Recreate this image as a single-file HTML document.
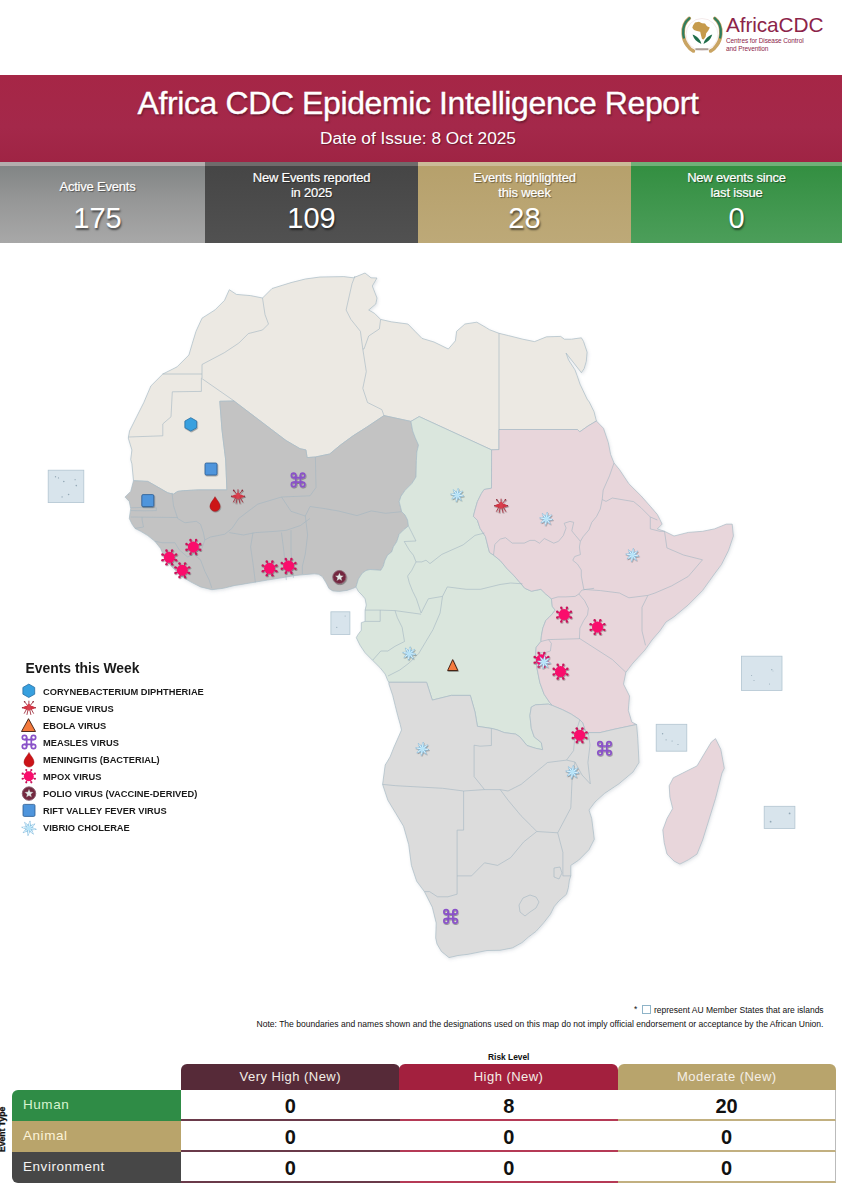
<!DOCTYPE html>
<html><head><meta charset="utf-8">
<style>
*{margin:0;padding:0;box-sizing:border-box}
html,body{width:842px;height:1195px;overflow:hidden;background:#fff;font-family:"Liberation Sans",sans-serif}
.abs{position:absolute}
#hdr{left:0;top:75px;width:842px;height:87px;background:linear-gradient(180deg,#a62646 0%,#a4284a 60%,#9f2444 100%)}
#title{left:0;top:84.5px;width:836px;text-align:center;color:#fff;font-size:32px;letter-spacing:-0.39px;line-height:36px;text-shadow:1px 1.5px 2px rgba(0,0,0,.35);-webkit-text-stroke:0.35px #fff}
#sub{left:0;top:128px;width:836px;text-align:center;color:#fff;font-size:17.3px;line-height:20px;text-shadow:1px 1px 1px rgba(0,0,0,.35)}
.stat{top:162px;height:81px;color:#fff;text-align:center}
.stat .lbl{position:absolute;left:0;right:0;font-size:13px;letter-spacing:-0.2px;line-height:15px;text-shadow:1px 1px 1px rgba(0,0,0,.45);-webkit-text-stroke:0.2px #fff}
.stat .num{position:absolute;left:0;right:0;top:40px;font-size:29px;line-height:32px;text-shadow:1px 2px 2px rgba(0,0,0,.55)}
.stat .bev{position:absolute;left:0;right:0;top:0;height:4px}
.lg{position:absolute;left:43px;font-size:9.3px;font-weight:bold;color:#1a1a1a;line-height:11px;letter-spacing:0}
.cellh{position:absolute;top:1063.5px;height:26.5px;color:#f4eee6;font-size:13px;text-align:center;line-height:25.5px;border-radius:6px 6px 0 0;letter-spacing:0.45px}
.rowl{position:absolute;left:12px;width:169px;height:31px;color:#f2f2e8;font-size:13.5px;line-height:30px;padding-left:11px;letter-spacing:0.55px}
.cell{position:absolute;height:31px;background:#fff;text-align:center;font-size:20px;font-weight:bold;color:#111;line-height:32px}
</style></head><body>

<!-- logo -->
<svg class="abs" style="left:678px;top:10px" width="50" height="50" viewBox="0 0 50 50">
  <circle cx="24" cy="24.5" r="16" fill="none" stroke="#ecdcdc" stroke-width="0.6"/>
  <path d="M11.3,8.3 C6.5,12 4.8,18 5.2,23.8 C5.5,28.5 7,32.5 9.5,35.6 C11,38 13,40 15.4,41" fill="none" stroke="#c9a463" stroke-width="3.6" stroke-linecap="round"/>
  <path d="M36.8,8.3 C41.5,12 43.2,18 42.8,23.8 C42.5,28.5 41,32.5 38.5,35.6 C37,38 35,40 32.6,41" fill="none" stroke="#c9a463" stroke-width="3.6" stroke-linecap="round"/>
  <path d="M11.3,8.3 C6.5,12 4.8,18 5.2,23.8 C5.3,25 5.5,26.5 5.9,27.5" fill="none" stroke="#2f7d5e" stroke-width="2.3" stroke-linecap="round"/>
  <path d="M36.8,8.3 C41.5,12 43.2,18 42.8,23.8 C42.7,25 42.5,26.5 42.1,27.5" fill="none" stroke="#2f7d5e" stroke-width="2.3" stroke-linecap="round"/>
  <path d="M15,15.5 L17,12.6 L21,11.8 L24,13.2 L27,13.6 L29,16.2 L31.8,17.6 L30.2,20.8 L28.2,23.3 L27.6,26.8 L25.6,29.6 L24,29 L23,25.2 L22.2,21.8 L19,21 L16,20 L14.3,17.8Z" fill="#c69b4c"/>
  <path d="M14.6,24.6 C15.6,29 19,32.2 23.3,33.9 C22.6,30.2 19.5,26.6 14.6,24.6Z" fill="#1f6e4a"/>
  <path d="M34.2,24.6 C33.2,29 29.8,32.2 25.5,33.9 C26.2,30.2 29.3,26.6 34.2,24.6Z" fill="#1f6e4a"/>
  <rect x="17.4" y="38.2" width="13" height="2" fill="#8a7a70" opacity="0.7"/>
</svg>
<div class="abs" style="left:726px;top:11.5px;font-size:20.8px;color:#8c2449;line-height:26px;letter-spacing:-0.1px">AfricaCDC</div>
<div class="abs" style="left:726px;top:37px;font-size:6.5px;color:#8c2449;line-height:8px;letter-spacing:-0.1px">Centres for Disease Control<br>and Prevention</div>

<div id="hdr" class="abs"></div>
<div id="title" class="abs">Africa CDC Epidemic Intelligence Report</div>
<div id="sub" class="abs">Date of Issue: 8 Oct 2025</div>

<div class="abs stat" style="left:0;width:205px;background:linear-gradient(180deg,#7f8383 0%,#959696 45%,#a8a8a8 100%)">
  <div class="bev" style="background:#b3adad"></div>
  <div class="lbl" style="top:16.5px;right:10px">Active Events</div>
  <div class="num" style="right:10px">175</div>
</div>
<div class="abs stat" style="left:205px;width:213px;background:linear-gradient(180deg,#454545,#515151)">
  <div class="bev" style="background:#6f6b6b"></div>
  <div class="lbl" style="top:8px">New Events reported<br>in 2025</div>
  <div class="num">109</div>
</div>
<div class="abs stat" style="left:418px;width:213px;background:linear-gradient(180deg,#b6a06b,#bda978)">
  <div class="bev" style="background:#cbbb98"></div>
  <div class="lbl" style="top:8px">Events highlighted<br>this week</div>
  <div class="num">28</div>
</div>
<div class="abs stat" style="left:631px;width:211px;background:linear-gradient(180deg,#328e40,#4c9e5a)">
  <div class="bev" style="background:#70b078"></div>
  <div class="lbl" style="top:8px">New events since<br>last issue</div>
  <div class="num">0</div>
</div>

<!-- MAP -->
<svg id="map" class="abs" style="left:0;top:0" width="842" height="1000" viewBox="0 0 842 1000">
<defs>
<filter id="msh" x="-5%" y="-5%" width="110%" height="110%"><feDropShadow dx="1" dy="1.5" stdDeviation="1.4" flood-color="#607080" flood-opacity="0.18"/></filter>
<filter id="sh" x="-50%" y="-50%" width="200%" height="200%"><feDropShadow dx="0.6" dy="1" stdDeviation="0.7" flood-color="#000" flood-opacity="0.35"/></filter>
<symbol id="hx" viewBox="-9 -9 18 18" overflow="visible"><polygon points="0,-6.7 5.9,-3.35 5.9,3.35 0,6.7 -5.9,3.35 -5.9,-3.35" fill="#37a0df" stroke="#2a6fa2" stroke-width="0.8"/></symbol>
<symbol id="sq" viewBox="-9 -9 18 18" overflow="visible"><rect x="-6" y="-6" width="12" height="12" rx="1.3" fill="#4f95dc" stroke="#2b5a90" stroke-width="0.8"/></symbol>
<symbol id="tr2" viewBox="-9 -9 18 18" overflow="visible"><path d="M0,-5.6 L5.1,5.3 L-5.1,5.3Z" fill="#f47a3c" stroke="#3a1a10" stroke-width="0.9" stroke-linejoin="round"/></symbol>
<symbol id="tr" viewBox="-9 -9 18 18" overflow="visible"><path d="M0,-6.6 L7,6.2 L-7,6.2Z" fill="#f47a3c" stroke="#3a1a10" stroke-width="0.9" stroke-linejoin="round"/></symbol>
<symbol id="dr" viewBox="-9 -9 18 18" overflow="visible"><path d="M0,-7.3 C1.4,-4.2 5,-1.3 5,2.3 A5,4.9 0 0 1 -5,2.3 C-5,-1.3 -1.4,-4.2 0,-7.3Z" fill="#cc1418" stroke="#9c1014" stroke-width="0.5"/></symbol>
<symbol id="ms" viewBox="-9 -9 18 18" overflow="visible"><g fill="none" stroke="#8a52c8" stroke-width="1.7"><path d="M-2.3,-4.6 V4.6 M2.3,-4.6 V4.6 M-4.6,-2.3 H4.6 M-4.6,2.3 H4.6"/><circle cx="-4.5" cy="-4.5" r="2.2"/><circle cx="4.5" cy="-4.5" r="2.2"/><circle cx="-4.5" cy="4.5" r="2.2"/><circle cx="4.5" cy="4.5" r="2.2"/></g></symbol>
<symbol id="po" viewBox="-9 -9 18 18" overflow="visible"><circle r="6.6" fill="#74283f" stroke="#8a6070" stroke-width="0.9"/><polygon points="0.00,-4.70 1.23,-1.70 4.47,-1.45 2.00,0.65 2.76,3.80 0.00,2.10 -2.76,3.80 -2.00,0.65 -4.47,-1.45 -1.23,-1.70" fill="#e6eceb" stroke="#5a2030" stroke-width="0.3"/></symbol>
<symbol id="dg" viewBox="-9 -9 18 18" overflow="visible"><g stroke-linecap="round"><path d="M-1.2,-2 L-4.2,-5.8 M1.2,-2 L4.2,-5.8 M0,-2 L0,-6.6 M-2.2,1.2 L-4.6,5.6 M2.2,1.2 L4.6,5.6 M-0.9,2 L-1.9,6.8 M0.9,2 L1.9,6.8" stroke="#a0303e" stroke-width="0.9" fill="none"/><path d="M-6.6,0 C-3,-2.8 3,-2.8 6.6,0 C3,2.8 -3,2.8 -6.6,0Z" fill="#d23444"/><ellipse cx="0" cy="-0.5" rx="1.7" ry="3.4" fill="#d8404e"/><circle cx="-4.3" cy="-5.9" r="0.8" fill="#8a2838"/><circle cx="4.3" cy="-5.9" r="0.8" fill="#8a2838"/><circle cx="-6.3" cy="0" r="0.8" fill="#8a2838"/><circle cx="6.3" cy="0" r="0.8" fill="#8a2838"/></g></symbol>
<symbol id="mp" viewBox="-9 -9 18 18" overflow="visible"><g fill="#fa0c6c" stroke="#c8125a"><line x1="4.25" y1="1.76" x2="6.47" y2="2.68" stroke-width="1.1"/><circle cx="6.84" cy="2.83" r="1.2" stroke="none" fill="#c8125a"/><line x1="1.76" y1="4.25" x2="2.68" y2="6.47" stroke-width="1.1"/><circle cx="2.83" cy="6.84" r="1.2" stroke="none" fill="#c8125a"/><line x1="-1.76" y1="4.25" x2="-2.68" y2="6.47" stroke-width="1.1"/><circle cx="-2.83" cy="6.84" r="1.2" stroke="none" fill="#c8125a"/><line x1="-4.25" y1="1.76" x2="-6.47" y2="2.68" stroke-width="1.1"/><circle cx="-6.84" cy="2.83" r="1.2" stroke="none" fill="#c8125a"/><line x1="-4.25" y1="-1.76" x2="-6.47" y2="-2.68" stroke-width="1.1"/><circle cx="-6.84" cy="-2.83" r="1.2" stroke="none" fill="#c8125a"/><line x1="-1.76" y1="-4.25" x2="-2.68" y2="-6.47" stroke-width="1.1"/><circle cx="-2.83" cy="-6.84" r="1.2" stroke="none" fill="#c8125a"/><line x1="1.76" y1="-4.25" x2="2.68" y2="-6.47" stroke-width="1.1"/><circle cx="2.83" cy="-6.84" r="1.2" stroke="none" fill="#c8125a"/><line x1="4.25" y1="-1.76" x2="6.47" y2="-2.68" stroke-width="1.1"/><circle cx="6.84" cy="-2.83" r="1.2" stroke="none" fill="#c8125a"/><circle r="5.5" stroke="none"/></g></symbol>
<symbol id="vb" viewBox="-9 -9 18 18" overflow="visible"><g><path d="M0.98,1.65 L6.73,0.95 L1.40,-1.32Z" fill="#9cd3ef" stroke="#7db4d8" stroke-width="0.5" stroke-linejoin="round"/><path d="M-0.48,1.86 L4.09,5.43 L1.92,0.06Z" fill="#9cd3ef" stroke="#7db4d8" stroke-width="0.5" stroke-linejoin="round"/><path d="M-1.65,0.98 L-0.95,6.73 L1.32,1.40Z" fill="#9cd3ef" stroke="#7db4d8" stroke-width="0.5" stroke-linejoin="round"/><path d="M-1.86,-0.48 L-5.43,4.09 L-0.06,1.92Z" fill="#9cd3ef" stroke="#7db4d8" stroke-width="0.5" stroke-linejoin="round"/><path d="M-0.98,-1.65 L-6.73,-0.95 L-1.40,1.32Z" fill="#9cd3ef" stroke="#7db4d8" stroke-width="0.5" stroke-linejoin="round"/><path d="M0.48,-1.86 L-4.09,-5.43 L-1.92,-0.06Z" fill="#9cd3ef" stroke="#7db4d8" stroke-width="0.5" stroke-linejoin="round"/><path d="M1.65,-0.98 L0.95,-6.73 L-1.32,-1.40Z" fill="#9cd3ef" stroke="#7db4d8" stroke-width="0.5" stroke-linejoin="round"/><path d="M1.86,0.48 L5.43,-4.09 L0.06,-1.92Z" fill="#9cd3ef" stroke="#7db4d8" stroke-width="0.5" stroke-linejoin="round"/><line x1="0.99" y1="0.14" x2="5.15" y2="0.72" stroke="#eefaff" stroke-width="0.8" stroke-linecap="round"/><line x1="0.60" y1="0.80" x2="3.13" y2="4.15" stroke="#eefaff" stroke-width="0.8" stroke-linecap="round"/><line x1="-0.14" y1="0.99" x2="-0.72" y2="5.15" stroke="#eefaff" stroke-width="0.8" stroke-linecap="round"/><line x1="-0.80" y1="0.60" x2="-4.15" y2="3.13" stroke="#eefaff" stroke-width="0.8" stroke-linecap="round"/><line x1="-0.99" y1="-0.14" x2="-5.15" y2="-0.72" stroke="#eefaff" stroke-width="0.8" stroke-linecap="round"/><line x1="-0.60" y1="-0.80" x2="-3.13" y2="-4.15" stroke="#eefaff" stroke-width="0.8" stroke-linecap="round"/><line x1="0.14" y1="-0.99" x2="0.72" y2="-5.15" stroke="#eefaff" stroke-width="0.8" stroke-linecap="round"/><line x1="0.80" y1="-0.60" x2="4.15" y2="-3.13" stroke="#eefaff" stroke-width="0.8" stroke-linecap="round"/><circle r="2" fill="#b8e4f8"/></g></symbol>
</defs>
<g stroke="#a9bcc6" stroke-width="0.7" stroke-linejoin="round" filter="url(#msh)">
<path d="M229.3,289.7 L236.4,294.4 L250.6,295.6 L262.5,298.0 L272.0,288.5 L291.0,282.6 L305.3,279.0 L320.0,277.0 L343.8,276.6 L353.3,277.8 L365.0,273.0 L371.0,277.8 L377.0,278.0 L372.3,286.0 L377.0,298.0 L375.8,304.0 L368.7,310.0 L374.6,313.4 L380.6,319.4 L391.3,321.8 L407.9,324.0 L415.0,331.3 L422.0,338.4 L434.0,342.0 L448.3,349.0 L455.4,340.8 L456.6,331.3 L464.9,324.0 L476.8,322.2 L486.3,327.7 L489.5,329.7 L499.0,333.3 L508.5,335.6 L522.8,339.2 L534.6,341.6 L546.5,336.8 L560.7,336.4 L564.3,339.2 L571.4,339.2 L581.4,337.8 L583.5,341.4 L587.1,352.1 L586.3,361.3 L584.2,368.5 L581.4,372.7 L566.0,353.0 L568.5,359.9 L575.0,369.9 L577.1,375.6 L580.0,384.1 L587.1,399.1 L589.3,402.0 L594.0,411.6 L596.4,421.0 L588.0,426.0 L579.8,431.8 L577.4,429.5 L499.0,429.5 L499.0,449.6 L491.6,449.9 L419.2,416.6 L410.9,421.4 L384.0,415.6 L366.5,427.3 L353.4,435.6 L340.4,445.1 L329.7,454.0 L315.4,457.0 L307.1,457.6 L305.9,449.9 L300.0,448.7 L286.0,440.5 L234.0,401.0 L219.8,401.3 L222.0,430.0 L225.7,460.0 L226.9,489.9 L198.4,489.9 L183.4,490.7 L177.7,491.4 L173.4,494.2 L167.7,492.8 L157.8,487.1 L147.8,481.4 L133.5,480.7 L131.9,463.8 L130.7,459.5 L131.9,450.0 L128.3,438.1 L129.5,431.0 L136.6,416.8 L143.8,402.5 L150.9,385.9 L162.8,374.0 L177.0,366.9 L188.9,355.0 L192.4,343.1 L196.0,331.3 L202.0,318.2 L215.0,309.9 L224.5,300.4Z" fill="#ece9e3"/>
<path d="M133.5,480.7 L147.8,481.4 L157.8,487.1 L167.7,492.8 L173.4,494.2 L177.7,491.4 L183.4,490.7 L198.4,489.9 L226.9,489.9 L225.7,460.0 L222.0,430.0 L219.8,401.3 L234.0,401.0 L286.0,440.5 L300.0,448.7 L305.9,449.9 L307.1,457.6 L315.4,457.0 L329.7,454.0 L340.4,445.1 L353.4,435.6 L366.5,427.3 L384.0,415.6 L410.9,421.4 L412.7,430.9 L415.2,437.6 L418.5,445.1 L416.9,451.8 L416.4,460.2 L416.0,477.0 L411.8,483.6 L405.1,490.3 L401.0,496.2 L399.2,501.7 L401.7,511.7 L405.1,515.1 L407.6,520.1 L408.4,525.9 L403.4,530.1 L399.2,534.3 L396.7,541.8 L393.4,546.8 L391.7,551.9 L387.5,555.2 L385.0,560.2 L383.3,566.1 L380.8,570.3 L370.0,569.5 L366.0,570.5 L362.2,573.3 L358.4,579.0 L356.0,587.0 L352.7,588.5 L347.0,590.4 L339.4,591.4 L332.8,590.9 L329.0,588.5 L326.1,582.8 L322.3,576.6 L318.5,574.3 L314.3,573.8 L300.0,575.0 L295.8,575.4 L281.5,577.8 L267.3,580.1 L253.0,582.5 L238.8,584.9 L235.0,585.4 L223.3,588.3 L211.9,589.7 L200.5,586.9 L192.0,582.6 L182.0,576.9 L174.9,569.8 L169.2,564.1 L163.5,555.5 L160.6,548.4 L154.9,541.3 L147.8,535.6 L140.7,531.3 L135.0,528.4 L132.1,524.2 L129.3,518.5 L130.7,508.5 L129.3,501.4 L125.0,497.1 L130.7,491.4Z" fill="#c3c3c3"/>
<path d="M491.6,449.9 L491.5,488.2 L484.1,489.5 L481.4,493.5 L477.4,501.6 L474.7,511.0 L473.4,516.3 L477.4,520.3 L480.1,528.4 L485.4,536.4 L488.1,547.1 L489.5,552.4 L493.5,555.1 L500.2,560.5 L506.9,568.5 L513.5,575.2 L520.0,582.6 L524.8,588.3 L531.4,591.2 L540.9,589.3 L545.7,594.0 L551.4,598.8 L552.3,606.4 L555.2,610.2 L551.4,614.9 L545.7,620.6 L542.8,628.2 L541.4,635.8 L540.9,641.5 L536.2,647.2 L535.6,654.3 L537.0,668.5 L539.9,682.8 L544.1,694.2 L549.8,702.7 L552.7,705.6 L548.4,704.1 L535.6,704.8 L531.3,707.0 L529.9,715.5 L531.3,728.4 L534.2,736.9 L541.3,742.6 L542.7,749.7 L535.6,748.3 L527.0,745.5 L519.9,736.9 L515.6,734.1 L504.2,732.6 L497.1,729.8 L491.4,728.4 L477.4,726.3 L475.0,712.0 L470.3,695.4 L451.3,695.4 L432.3,700.1 L426.6,682.3 L388.9,682.3 L387.7,680.4 L385.2,674.1 L380.2,667.8 L372.6,660.3 L365.1,652.8 L360.0,645.2 L356.3,637.7 L357.6,635.2 L361.3,630.2 L361.3,622.7 L365.1,621.4 L365.1,610.1 L366.3,605.1 L365.1,598.8 L362.2,595.2 L358.4,591.4 L356.0,587.0 L358.4,579.0 L362.2,573.3 L366.0,570.5 L370.0,569.5 L380.8,570.3 L383.3,566.1 L385.0,560.2 L387.5,555.2 L391.7,551.9 L393.4,546.8 L396.7,541.8 L399.2,534.3 L403.4,530.1 L408.4,525.9 L407.6,520.1 L405.1,515.1 L401.7,511.7 L399.2,501.7 L401.0,496.2 L405.1,490.3 L411.8,483.6 L416.0,477.0 L416.4,460.2 L416.9,451.8 L418.5,445.1 L415.2,437.6 L412.7,430.9 L410.9,421.4 L419.2,416.6Z" fill="#dae6dd"/>
<path d="M499.0,429.5 L577.4,429.5 L579.8,431.8 L588.0,426.0 L596.4,421.0 L603.5,428.3 L608.3,442.5 L610.6,454.4 L614.0,463.0 L619.4,469.5 L628.9,483.8 L640.8,495.6 L650.3,506.3 L657.4,514.6 L659.8,519.4 L662.1,524.1 L657.4,528.9 L664.5,531.3 L674.0,536.0 L688.3,532.4 L702.5,531.3 L714.4,528.9 L726.3,524.1 L732.2,524.1 L733.4,536.0 L728.6,550.3 L721.5,564.5 L714.4,574.0 L702.5,590.6 L688.3,604.9 L674.0,616.8 L666.0,622.0 L659.8,631.0 L652.0,640.0 L645.0,650.0 L638.4,657.2 L633.0,663.0 L625.9,672.3 L623.5,684.1 L629.5,696.0 L628.3,710.3 L631.8,722.1 L636.6,724.5 L614.0,729.3 L600.0,732.6 L588.3,732.6 L585.5,731.2 L582.6,722.7 L579.8,719.8 L571.2,714.1 L562.7,709.8 L552.7,705.6 L549.8,702.7 L544.1,694.2 L539.9,682.8 L537.0,668.5 L535.6,654.3 L536.2,647.2 L540.9,641.5 L541.4,635.8 L542.8,628.2 L545.7,620.6 L551.4,614.9 L555.2,610.2 L552.3,606.4 L551.4,598.8 L545.7,594.0 L540.9,589.3 L531.4,591.2 L524.8,588.3 L520.0,582.6 L513.5,575.2 L506.9,568.5 L500.2,560.5 L493.5,555.1 L489.5,552.4 L488.1,547.1 L485.4,536.4 L480.1,528.4 L477.4,520.3 L473.4,516.3 L474.7,511.0 L477.4,501.6 L481.4,493.5 L484.1,489.5 L491.5,488.2 L491.6,449.9 L499.0,449.6Z" fill="#e8d6db"/>
<path d="M388.9,682.3 L426.6,682.3 L432.3,700.1 L451.3,695.4 L470.3,695.4 L475.0,712.0 L477.4,726.3 L491.4,728.4 L497.1,729.8 L504.2,732.6 L515.6,734.1 L519.9,736.9 L527.0,745.5 L535.6,748.3 L542.7,749.7 L541.3,742.6 L534.2,736.9 L531.3,728.4 L529.9,715.5 L531.3,707.0 L535.6,704.8 L548.4,704.1 L552.7,705.6 L562.7,709.8 L571.2,714.1 L579.8,719.8 L582.6,722.7 L585.5,731.2 L588.3,732.6 L600.0,732.6 L614.0,729.3 L636.6,724.5 L637.8,738.8 L639.0,762.5 L633.0,772.0 L618.8,783.9 L604.5,793.4 L595.0,802.0 L589.0,810.0 L591.7,818.4 L594.3,839.3 L589.0,849.7 L578.6,860.2 L570.8,865.4 L570.8,875.9 L569.4,880.0 L568.4,887.6 L566.5,894.3 L558.9,900.9 L554.2,906.6 L550.4,914.2 L543.7,922.8 L536.1,931.3 L528.5,937.0 L521.9,942.7 L512.4,947.9 L500.0,950.3 L487.0,950.5 L468.0,954.3 L458.0,955.5 L449.0,957.6 L441.4,951.4 L437.0,944.0 L435.7,938.0 L436.2,922.9 L432.3,907.2 L424.4,891.6 L416.6,881.1 L411.4,865.4 L408.7,844.5 L403.5,826.2 L395.7,813.2 L387.8,800.1 L382.6,784.4 L385.2,765.0 L390.0,757.0 L394.0,747.0 L398.0,738.0 L401.5,730.0 L400.2,724.3 L397.7,715.5 L395.2,705.5 L392.7,695.4 L388.9,684.1 L388.9,682.3Z" fill="#dcdcdc"/>
<path d="M715.5,738.6 L720.8,749.3 L724.3,768.3 L722.0,773.0 L718.4,787.3 L715.5,798.5 L709.8,817.0 L702.7,839.9 L697.0,854.1 L688.4,859.8 L679.9,864.1 L674.2,861.2 L667.0,854.1 L664.2,842.7 L662.8,829.9 L667.0,818.5 L672.7,808.5 L669.9,797.1 L669.2,785.7 L673.3,777.8 L682.8,773.0 L697.0,765.9 L704.1,754.0 L711.3,742.1Z" fill="#e8d6db"/>
</g>
<g fill="none" stroke="#a3b6c1" stroke-width="0.6" stroke-linejoin="round">
<path d="M262.5,298.0 L265.0,314.6 L268.5,324.0 L262.5,330.0 L248.3,333.6 L238.8,343.1 L224.5,352.6 L202.0,364.5 L202.0,378.0"/>
<path d="M162.5,374.0 L202.0,374.0"/>
<path d="M201.4,378.2 L201.4,391.4 L172.3,391.8 L171.0,416.8 L162.8,423.9 L162.8,435.8 L128.6,437.0"/>
<path d="M201.4,378.2 L234.2,401.0"/>
<path d="M355.0,276.0 L352.0,283.8 L346.1,310.0 L350.9,319.4 L360.4,331.3 L362.8,349.0"/>
<path d="M380.6,319.4 L379.4,328.9 L368.7,336.0 L364.0,349.0 L362.8,349.0"/>
<path d="M362.8,349.0 L366.3,371.6 L362.8,388.3 L367.5,402.5 L381.8,409.6 L384.0,415.6"/>
<path d="M499.0,333.3 L499.0,429.5"/>
<path d="M172.0,492.8 L173.5,505.7 L177.7,518.5"/>
<path d="M130.7,507.8 L140.0,507.5 L150.0,508.0 L156.4,507.8 L156.4,510.6 L145.0,510.8 L130.7,510.6"/>
<path d="M130.7,517.0 L177.7,517.5"/>
<path d="M142.1,517.2 L142.1,520.0 L143.5,527.0 L135.0,528.4"/>
<path d="M177.7,518.5 L184.9,522.8 L196.3,521.3 L200.5,524.2 L203.4,532.7 L204.8,539.9"/>
<path d="M204.8,539.9 L210.5,537.0 L217.6,535.6 L224.8,534.2 L231.9,528.5 L238.8,518.4 L257.8,504.1 L281.5,497.0 L310.0,495.8 L316.0,487.5 L315.4,457.0"/>
<path d="M154.9,541.3 L162.0,542.7 L174.9,542.7 L179.2,549.8"/>
<path d="M179.2,549.8 L187.7,557.0 L193.4,554.1"/>
<path d="M193.4,554.1 L200.5,559.8 L204.8,571.2 L209.1,579.8 L211.9,588.3"/>
<path d="M193.4,554.1 L202.0,548.4 L204.8,539.9"/>
<path d="M229.3,532.6 L243.5,535.0 L255.4,532.6 L274.4,531.4 L286.3,530.3 L300.5,525.5 L310.0,518.4"/>
<path d="M281.5,497.0 L291.0,511.3 L305.3,516.0 L310.0,506.5"/>
<path d="M253.0,532.6 L250.6,546.9 L253.0,563.5 L255.4,582.5"/>
<path d="M281.5,532.6 L283.9,551.6 L286.3,580.1"/>
<path d="M291.0,530.3 L291.0,551.6 L293.4,577.8"/>
<path d="M305.3,516.0 L307.6,535.0 L305.3,554.0 L302.4,566.0 L302.4,574.0"/>
<path d="M310.0,506.5 L323.8,508.5 L338.0,510.9 L357.0,515.6 L371.3,510.9 L385.5,513.3 L401.7,511.7"/>
<path d="M408.4,525.9 L411.8,532.6 L416.0,541.0 L404.2,541.5 L409.3,550.2 L413.4,555.2 L416.0,561.9"/>
<path d="M416.0,561.9 L421.8,561.9 L426.0,560.2 L430.0,563.6 L441.8,554.4 L463.1,544.9 L475.0,535.4 L484.5,533.0"/>
<path d="M416.0,561.9 L411.8,570.3 L407.6,576.1 L409.3,582.8 L412.6,591.2 L416.4,598.8 L421.1,613.0"/>
<path d="M365.1,610.1 L380.2,610.1 L395.0,610.6 L421.1,614.2"/>
<path d="M421.1,613.0 L428.3,598.8 L442.5,596.4 L447.3,586.9 L466.3,589.3 L480.5,589.3 L500.0,584.5 L510.6,583.0 L522.5,583.8"/>
<path d="M442.5,596.4 L440.1,613.0 L433.0,629.6 L425.9,641.5 L418.8,653.4 L409.3,662.9 L399.8,670.0 L388.0,676.0"/>
<path d="M395.0,610.6 L397.4,617.8 L402.1,627.3 L404.5,641.5 L395.0,646.3 L387.9,651.0 L380.8,651.0 L372.6,660.3"/>
<path d="M365.1,621.4 L380.2,621.4 L380.2,610.1"/>
<path d="M493.5,555.1 L494.8,544.4 L500.2,539.1 L505.5,537.7 L512.2,543.1 L524.3,543.1 L530.0,540.4 L534.8,540.4 L539.5,543.2 L544.3,538.5 L553.8,543.2 L558.5,541.3 L563.3,535.6 L566.1,528.0 L564.2,523.3 L569.9,521.4 L573.7,522.3 L571.8,530.9 L575.6,535.6 L580.4,541.3"/>
<path d="M580.4,541.3 L583.2,536.6 L588.9,529.9 L591.8,522.3 L596.5,516.6 L600.3,509.0 L602.2,499.5 L603.2,490.0 L609.5,475.8 L614.0,463.0"/>
<path d="M602.2,499.5 L606.0,501.4 L612.3,498.0 L633.6,501.6 L640.8,507.5 L650.3,517.0 L657.4,520.0"/>
<path d="M650.3,517.0 L650.3,528.9 L659.8,531.3 L664.5,531.3"/>
<path d="M664.5,531.3 L666.9,547.9 L683.5,555.0 L702.5,559.8 L688.3,576.4 L671.6,585.9 L655.0,593.0 L647.9,595.4"/>
<path d="M647.9,595.4 L642.0,607.3 L642.0,631.0 L645.5,645.3"/>
<path d="M647.9,595.4 L628.9,597.8 L619.4,593.0 L600.4,590.6 L583.8,589.4"/>
<path d="M583.8,589.4 L581.3,576.0 L581.3,570.0 L577.5,564.1 L572.8,560.3 L574.7,556.5 L580.4,554.6 L579.4,547.0 L580.4,541.3"/>
<path d="M551.4,598.8 L558.0,596.9 L565.6,596.9 L575.1,596.4 L578.9,594.0 L581.8,590.2 L586.5,589.3 L594.1,588.3"/>
<path d="M578.9,594.0 L584.6,600.7 L588.4,608.3 L587.5,614.9 L583.7,620.6 L579.9,628.2 L579.4,638.7"/>
<path d="M540.9,641.5 L548.5,639.6 L579.4,638.7"/>
<path d="M579.0,638.1 L612.3,659.5 L625.9,672.3"/>
<path d="M548.5,639.6 L551.4,643.4 L550.4,651.0 L544.0,653.0 L537.0,652.0"/>
<path d="M491.4,728.4 L491.4,745.5 L480.0,746.2 L474.1,745.2 L474.1,776.6 L484.5,789.6"/>
<path d="M382.6,784.4 L395.7,785.7 L442.7,788.3 L463.6,791.0 L484.5,789.6 L500.2,789.6"/>
<path d="M500.2,789.6 L508.0,791.0 L521.1,784.4 L536.8,771.4 L547.5,762.5 L566.5,760.1"/>
<path d="M579.8,719.8 L575.0,735.0 L573.6,750.6 L566.5,760.1"/>
<path d="M588.3,732.6 L590.0,745.0 L587.9,762.5 L590.3,783.9 L582.0,775.0 L575.0,762.0 L566.5,760.1"/>
<path d="M575.0,762.0 L572.1,779.2 L570.8,808.0 L557.7,832.8"/>
<path d="M463.6,791.0 L463.6,830.1 L457.1,830.1 L457.1,894.2"/>
<path d="M457.1,894.2 L447.9,896.8 L437.5,896.8 L429.6,891.6 L424.4,891.6"/>
<path d="M457.1,875.9 L471.5,875.9 L484.5,862.8 L497.6,865.4 L510.7,857.6 L523.7,841.9 L536.8,831.5"/>
<path d="M500.2,789.6 L508.0,800.1 L521.1,815.8 L531.6,826.2 L536.8,831.5"/>
<path d="M536.8,831.5 L557.7,832.8 L562.9,852.4 L562.9,875.9 L570.8,875.9"/>
<path d="M519,905 L523,898 L530,895 L536,897 L539,902 L536,908 L530,912 L525,916 L520,912Z"/>
<path d="M554,868 L560,867 L562,873 L559,879 L554,877Z"/>
</g>
<g fill="#d8e4ec" stroke="#b2c5d1" stroke-width="0.8">
<rect x="48.2" y="470.2" width="35.6" height="32.4"/>
<rect x="330.9" y="611.8" width="19.0" height="22.6"/>
<rect x="656.2" y="724.3" width="30.6" height="26.9"/>
<rect x="741.4" y="656.2" width="40.6" height="34.2"/>
<rect x="764.2" y="806.3" width="30.7" height="22.1"/>
</g>
<g fill="#93a8b6">
<circle cx="55.5" cy="476.7" r="0.7"/>
<circle cx="58.5" cy="477.9" r="0.6"/>
<circle cx="63.8" cy="481.5" r="0.8"/>
<circle cx="75.1" cy="479.7" r="0.6"/>
<circle cx="76.3" cy="485.6" r="0.8"/>
<circle cx="68.6" cy="494.5" r="0.8"/>
<circle cx="62.1" cy="496.9" r="0.7"/>
<circle cx="751.6" cy="675.6" r="0.5"/>
<circle cx="754" cy="680.4" r="0.5"/>
<circle cx="771.8" cy="669.7" r="0.6"/>
<circle cx="769.5" cy="684" r="0.5"/>
<circle cx="773" cy="671" r="0.4"/>
<circle cx="662.6" cy="733.8" r="0.7"/>
<circle cx="666.1" cy="739.8" r="0.6"/>
<circle cx="672.1" cy="741" r="0.6"/>
<circle cx="678" cy="744.5" r="0.6"/>
<circle cx="770.6" cy="821.7" r="0.9"/>
<circle cx="789.6" cy="813.4" r="0.9"/>
<circle cx="345.1" cy="615.9" r="0.5"/>
<circle cx="336.8" cy="627.3" r="0.6"/>
</g>
<g filter="url(#sh)">
<use href="#hx" x="181.8" y="415.4" width="18" height="18"/>
<use href="#sq" x="202.0" y="460.0" width="18" height="18"/>
<use href="#sq" x="138.8" y="491.6" width="18" height="18"/>
<use href="#dr" x="206.0" y="495.0" width="18" height="18"/>
<use href="#dg" x="229.0" y="487.3" width="18" height="18"/>
<use href="#ms" x="289.1" y="470.9" width="18" height="18"/>
<use href="#mp" x="184.3" y="537.9" width="18" height="18"/>
<use href="#mp" x="160.3" y="548.3" width="18" height="18"/>
<use href="#mp" x="173.3" y="561.2" width="18" height="18"/>
<use href="#mp" x="260.6" y="559.3" width="18" height="18"/>
<use href="#mp" x="279.6" y="556.9" width="18" height="18"/>
<use href="#po" x="330.4" y="568.1" width="18" height="18"/>
<use href="#vb" x="448.2" y="486.0" width="18" height="18"/>
<use href="#dg" x="492.1" y="496.7" width="18" height="18"/>
<use href="#vb" x="537.3" y="509.8" width="18" height="18"/>
<use href="#vb" x="623.4" y="546.0" width="18" height="18"/>
<use href="#mp" x="555.1" y="605.6" width="18" height="18"/>
<use href="#mp" x="588.5" y="618.0" width="18" height="18"/>
<use href="#mp" x="532.5" y="650.8" width="18" height="18"/>
<use href="#vb" x="534.9" y="653.1" width="18" height="18"/>
<use href="#mp" x="551.5" y="662.6" width="18" height="18"/>
<use href="#tr2" x="443.7" y="656.2" width="18" height="18"/>
<use href="#vb" x="400.3" y="644.4" width="18" height="18"/>
<use href="#vb" x="413.3" y="739.8" width="18" height="18"/>
<use href="#mp" x="570.6" y="726.2" width="18" height="18"/>
<use href="#ms" x="595.5" y="739.3" width="18" height="18"/>
<use href="#vb" x="563.4" y="763.0" width="18" height="18"/>
<use href="#ms" x="441.6" y="907.4" width="18" height="18"/>
</g>
<g>
<use href="#hx" x="19.8" y="681.8" width="18.0" height="18.0"/>
<use href="#dg" x="19.9" y="698.7" width="18.0" height="18.0"/>
<use href="#tr" x="19.5" y="716.3" width="18.0" height="18.0"/>
<use href="#ms" x="20.0" y="733.0" width="18.0" height="18.0"/>
<use href="#dr" x="20.0" y="750.8" width="18.0" height="18.0"/>
<use href="#mp" x="20.7" y="768.1" width="16.2" height="16.2"/>
<use href="#po" x="19.8" y="784.4" width="18.4" height="18.4"/>
<use href="#sq" x="20.0" y="801.4" width="18.0" height="18.0"/>
<use href="#vb" x="19.1" y="818.4" width="19.8" height="19.8"/>
</g>
</svg>

<!-- legend -->
<div class="abs" style="left:25.5px;top:659.5px;font-size:13.9px;font-weight:bold;color:#1a1a1a;line-height:16px">Events this Week</div>
<div class="lg" style="top:686.5px">CORYNEBACTERIUM DIPHTHERIAE</div>
<div class="lg" style="top:703.6px">DENGUE VIRUS</div>
<div class="lg" style="top:720.7px">EBOLA VIRUS</div>
<div class="lg" style="top:737.8px">MEASLES VIRUS</div>
<div class="lg" style="top:754.9px">MENINGITIS (BACTERIAL)</div>
<div class="lg" style="top:772px">MPOX VIRUS</div>
<div class="lg" style="top:789.1px">POLIO VIRUS (VACCINE-DERIVED)</div>
<div class="lg" style="top:806.2px">RIFT VALLEY FEVER VIRUS</div>
<div class="lg" style="top:823.3px">VIBRIO CHOLERAE</div>

<!-- notes -->
<div class="abs" style="left:634px;top:1004px;font-size:8.5px;color:#111;line-height:11px">*</div>
<div class="abs" style="left:642px;top:1005px;width:8.5px;height:8.5px;border:1px solid #8fb4c8;background:#fff"></div>
<div class="abs" style="left:654px;top:1004.8px;font-size:8.5px;color:#111;line-height:11px">represent AU Member States that are islands</div>
<div class="abs" style="left:256.5px;top:1019px;font-size:8.55px;color:#111;line-height:11px">Note: The boundaries and names shown and the designations used on this map do not imply official endorsement or acceptance by the African Union.</div>

<!-- table -->
<div class="abs" style="left:488px;top:1051.5px;font-size:8.4px;font-weight:bold;color:#111;line-height:10px">Risk Level</div>
<div class="abs" style="left:5.6px;top:1152px;width:0;height:0"><div style="position:absolute;left:0;bottom:0;transform-origin:0 100%;transform:rotate(-90deg);font-size:8.6px;font-weight:bold;white-space:nowrap;color:#111;line-height:8px;-webkit-text-stroke:0.3px #111">Event Type</div></div>
<div class="cellh" style="left:181px;width:218.5px;background:#562a38">Very High (New)</div>
<div class="cellh" style="left:399.3px;width:218.5px;background:#a3203e">High (New)</div>
<div class="cellh" style="left:617.8px;width:218px;background:#b8a46c">Moderate (New)</div>

<div class="rowl" style="top:1090px;background:#2f8c46;border-radius:6px 0 0 0;color:#d6f4cf">Human</div>
<div class="rowl" style="top:1121px;background:#b9a46b;color:#fcf3d8">Animal</div>
<div class="rowl" style="top:1152px;background:#474747;border-radius:0 0 0 6px;color:#f4f4f4">Environment</div>

<div class="cell" style="left:181px;top:1090px;width:218.5px;border-bottom:2px solid #6a3a4a">0</div>
<div class="cell" style="left:399.5px;top:1090px;width:218.5px;border-bottom:2px solid #b53a56">8</div>
<div class="cell" style="left:618px;top:1090px;width:218px;border-bottom:2px solid #c2b080;border-right:1.5px solid #bbb">20</div>
<div class="cell" style="left:181px;top:1121px;width:218.5px;border-bottom:2px solid #6a3a4a">0</div>
<div class="cell" style="left:399.5px;top:1121px;width:218.5px;border-bottom:2px solid #b53a56">0</div>
<div class="cell" style="left:618px;top:1121px;width:218px;border-bottom:2px solid #c2b080;border-right:1.5px solid #bbb">0</div>
<div class="cell" style="left:181px;top:1152px;width:218.5px;border-bottom:2px solid #6a3a4a">0</div>
<div class="cell" style="left:399.5px;top:1152px;width:218.5px;border-bottom:2px solid #b53a56">0</div>
<div class="cell" style="left:618px;top:1152px;width:218px;border-bottom:2px solid #c2b080;border-right:1.5px solid #bbb">0</div>

</body></html>
